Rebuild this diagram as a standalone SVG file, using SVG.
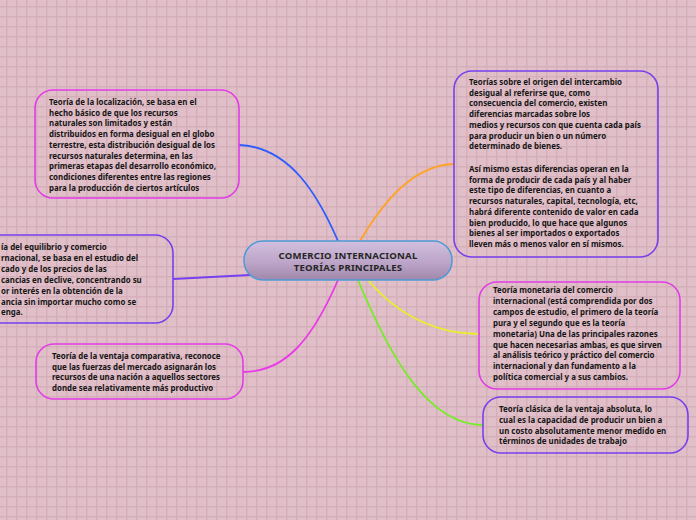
<svg xmlns="http://www.w3.org/2000/svg" width="696" height="520" viewBox="0 0 696 520">
<defs>
<pattern id="grid" x="0" y="0" width="10" height="10" patternUnits="userSpaceOnUse">
<rect width="10" height="10" fill="#e1bfc8"/>
<rect x="6" y="0" width="1.5" height="10" fill="#d5b0bb"/>
<rect x="0" y="6" width="10" height="1.5" fill="#d5b0bb"/>
</pattern>
<linearGradient id="cg" x1="0" y1="0" x2="0" y2="1">
<stop offset="0" stop-color="#d2bfdf"/>
<stop offset="0.55" stop-color="#bca5c8"/>
<stop offset="1" stop-color="#9f88aa"/>
</linearGradient>
</defs>
<style>
.box{fill:none;stroke-width:1.6}
.mag{stroke:#e23ce6}
.pur{stroke:#7740ee}
.t{font-family:"Noto Sans","Open Sans",sans-serif;font-weight:700;font-size:7.9px;fill:#151515}
.c{font-family:"Noto Sans","Open Sans",sans-serif;font-weight:700;font-size:9.6px;letter-spacing:0.2px;fill:#262626;text-anchor:middle}
.ln{fill:none;stroke-width:1.8}
</style>
<rect width="696" height="520" fill="url(#grid)"/>
<g id="connectors">
<path class="ln" stroke="#2d5cff" d="M239,145 C290,147 318,195 338,241"/>
<path class="ln" stroke="#ffa326" d="M360,241 C390,190 420,165 454,164"/>
<path class="ln" stroke="#7740ee" d="M173,279 L250,275"/>
<path class="ln" stroke="#e83ae8" d="M338,280 C312,340 285,372 243,372"/>
<path class="ln" stroke="#e6f02a" d="M368,280 C400,318 440,334 479,334"/>
<path class="ln" stroke="#72ee22" d="M358,280 C392,362 430,425 483,425"/>
</g>
<g id="center">
<rect x="244" y="241" width="208" height="39" rx="19" fill="url(#cg)" stroke="#4f9ad6" stroke-width="1.5"/>
<text class="c" x="348" y="258.5">COMERCIO INTERNACIONAL</text>
<text class="c" x="348" y="271">TEORÍAS PRINCIPALES</text>
</g>
<g id="n-localizacion">
<rect class="box mag" x="35" y="90" width="204" height="108" rx="18"/>
<text class="t"><tspan x="49" y="105">Teoría de la localización, se basa en el</tspan><tspan x="49" y="115.7">hecho básico de que los recursos</tspan><tspan x="49" y="126.4">naturales son limitados y están</tspan><tspan x="49" y="137.1">distribuidos en forma desigual en el globo</tspan><tspan x="49" y="147.8">terrestre, esta distribución desigual de los</tspan><tspan x="49" y="158.5">recursos naturales determina, en las</tspan><tspan x="49" y="169.2">primeras etapas del desarrollo económico,</tspan><tspan x="49" y="179.9">condiciones diferentes entre las regiones</tspan><tspan x="49" y="190.6">para la producción de ciertos artículos</tspan></text>
</g>
<g id="n-equilibrio">
<rect class="box pur" x="-30" y="235" width="203" height="88" rx="18"/>
<text class="t"><tspan x="1" y="250">ía del equilibrio y comercio</tspan><tspan x="1" y="260.9">rnacional, se basa en el estudio del</tspan><tspan x="1" y="271.8">cado y de los precios de las</tspan><tspan x="1" y="282.7">cancias en declive, concentrando su</tspan><tspan x="1" y="293.6">or interés en la obtención de la</tspan><tspan x="1" y="304.5">ancia sin importar mucho como se</tspan><tspan x="1" y="315.4">enga.</tspan></text>
</g>
<g id="n-comparativa">
<rect class="box mag" x="36" y="344" width="207" height="55" rx="18"/>
<text class="t"><tspan x="52" y="359">Teoría de la ventaja comparativa, reconoce</tspan><tspan x="52" y="369.7">que las fuerzas del mercado asignarán los</tspan><tspan x="52" y="380.4">recursos de una nación a aquellos sectores</tspan><tspan x="52" y="391.1">donde sea relativamente más productivo</tspan></text>
</g>
<g id="n-intercambio">
<rect class="box pur" x="454" y="71" width="204" height="186" rx="18"/>
<text class="t"><tspan x="469" y="85">Teorías sobre el origen del intercambio</tspan><tspan x="469" y="95.7">desigual al referirse que, como</tspan><tspan x="469" y="106.4">consecuencia del comercio, existen</tspan><tspan x="469" y="117.1">diferencias marcadas sobre los</tspan><tspan x="469" y="127.8">medios y recursos con que cuenta cada país</tspan><tspan x="469" y="138.5">para producir un bien o un número</tspan><tspan x="469" y="149.2">determinado de bienes.</tspan><tspan x="469" y="172">Así mismo estas diferencias operan en la</tspan><tspan x="469" y="182.7">forma de producir de cada país y al haber</tspan><tspan x="469" y="193.4">este tipo de diferencias, en cuanto a</tspan><tspan x="469" y="204.1">recursos naturales, capital, tecnología, etc,</tspan><tspan x="469" y="214.8">habrá diferente contenido de valor en cada</tspan><tspan x="469" y="225.5">bien producido, lo que hace que algunos</tspan><tspan x="469" y="236.2">bienes al ser importados o exportados</tspan><tspan x="469" y="246.9">lleven más o menos valor en sí mismos.</tspan></text>
</g>
<g id="n-monetaria">
<rect class="box mag" x="479" y="282" width="201" height="107" rx="18"/>
<text class="t"><tspan x="493" y="293">Teoría monetaria del comercio</tspan><tspan x="493" y="303.9">internacional (está comprendida por dos</tspan><tspan x="493" y="314.8">campos de estudio, el primero de la teoría</tspan><tspan x="493" y="325.7">pura y el segundo que es la teoría</tspan><tspan x="493" y="336.6">monetaria) Una de las principales razones</tspan><tspan x="493" y="347.5">que hacen necesarias ambas, es que sirven</tspan><tspan x="493" y="358.4">al análisis teórico y práctico del comercio</tspan><tspan x="493" y="369.3">internacional y dan fundamento a la</tspan><tspan x="493" y="380.2">política comercial y a sus cambios.</tspan></text>
</g>
<g id="n-absoluta">
<rect class="box pur" x="483" y="397" width="205" height="56" rx="18"/>
<text class="t"><tspan x="499" y="412">Teoría clásica de la ventaja absoluta, lo</tspan><tspan x="499" y="422.8">cual es la capacidad de producir un bien a</tspan><tspan x="499" y="433.6">un costo absolutamente menor medido en</tspan><tspan x="499" y="444.4">términos de unidades de trabajo</tspan></text>
</g>
</svg>
